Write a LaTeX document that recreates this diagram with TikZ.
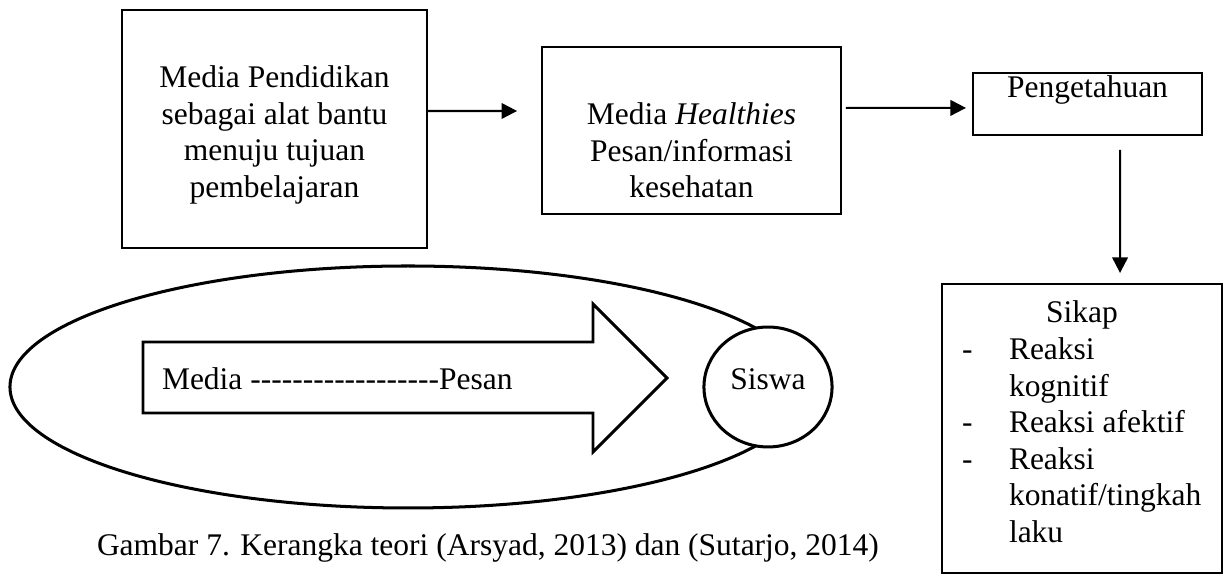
\documentclass[tikz,border=0pt]{standalone}
\usepackage{fontspec}
\setmainfont{Liberation Serif}[Ligatures=TeXOff]
\usetikzlibrary{arrows.meta,shapes.geometric}
\begin{document}
\begin{tikzpicture}[x=0.381pt,y=-0.381pt,
  every node/.style={font=\fontsize{12pt}{13.9pt}\selectfont,inner sep=0pt,outer sep=0pt},
  box/.style={draw,line width=0.65pt,rectangle},
  oval/.style={draw,line width=1.15pt,ellipse},
  arr/.style={line width=0.8pt,-{Triangle[length=5.9pt,width=5.9pt]}},
  txt/.style={anchor=base}]
\useasboundingbox (0,0) rectangle (1228,575);
% big ellipse and Siswa
\node[oval,minimum width=303.3pt,minimum height=92.2pt] (big) at (408,387) {};
\draw[line width=1.1pt,fill=white,line join=miter] (143,342) -- (593,342) -- (593,304) -- (667,378) -- (593,452) -- (593,413) -- (143,413) -- cycle;
\node[anchor=base west] (mp) at (162,390) {Media ------------------Pesan};
\node[oval,fill=white,minimum width=48.8pt,minimum height=45.7pt] (siswa) at (768,387) {};
\node[txt] (siswat) at (768,390) {Siswa};
% boxes
\node[box,minimum width=116.2pt,minimum height=90.7pt] (b1) at (274.5,129) {};
\node[txt] (b1t) at (274.5,88) {\begin{tabular}[t]{@{}c@{}}Media Pendidikan\\ sebagai alat bantu\\ menuju tujuan\\ pembelajaran\end{tabular}};
\node[box,minimum width=113.9pt,minimum height=63.6pt] (b2) at (691.5,130.5) {};
\node[txt] (b2t) at (691.5,124.7) {\begin{tabular}[t]{@{}c@{}}Media \textit{Healthies}\\ Pesan/informasi\\ kesehatan\end{tabular}};
\node[box,minimum width=87.2pt,minimum height=23.6pt] (b3) at (1087.5,104) {};
\node[txt] (b3t) at (1087.5,98) {Pengetahuan};
\node[box,minimum width=106.7pt,minimum height=110.1pt] (b4) at (1082,428.5) {};
\node[txt] (b4h) at (1082,323) {Sikap};
\node[anchor=base west] (b4d) at (962,360) {\begin{tabular}[t]{@{}l@{}}-\\ \\ -\\ -\end{tabular}};
\node[anchor=base west] (b4t) at (1009,360) {\begin{tabular}[t]{@{}l@{}}Reaksi\\ kognitif\\ Reaksi afektif\\ Reaksi\\ konatif/tingkah\\ laku\end{tabular}};
% arrows
\draw[arr] ([yshift=6.86pt]b1.east) -- ([xshift=-9.5pt,yshift=7.43pt]b2.west);
\draw[arr] ([xshift=1.9pt,yshift=8.6pt]b2.east) -- ([xshift=-2.7pt,yshift=-1.5pt]b3.west);
\draw[arr] ([xshift=12.4pt,yshift=-5.7pt]b3.south) -- ([xshift=14.5pt,yshift=4.2pt]b4.north);
% caption
\node[anchor=base west] (cap) at (97,556) {Gambar 7. Kerangka teori (Arsyad, 2013) dan (Sutarjo, 2014)};
\end{tikzpicture}
\end{document}
